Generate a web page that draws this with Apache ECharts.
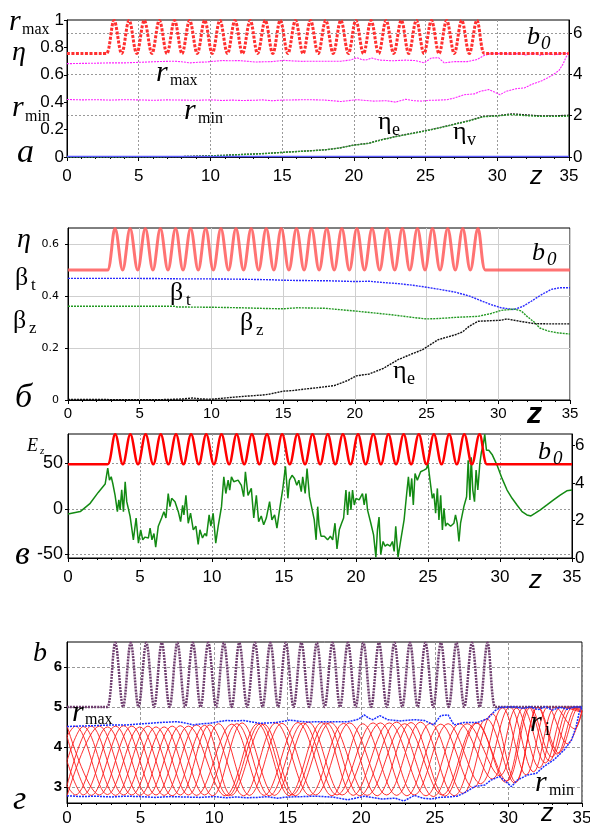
<!DOCTYPE html>
<html><head><meta charset="utf-8">
<script src="https://cdn.jsdelivr.net/npm/echarts@6/dist/echarts.min.js"></script>
<style>html,body{margin:0;padding:0;background:#fff}#c{width:590px;height:825px}</style>
</head><body><div id="c"></div>
<script>
// ---------- DATA ----------
// magnetic profile b0(z): turning points [z, b]
const bCurve = [[0,5],[2.5,5],[2.75,5],
[3.28,6.6],[3.81,5],[4.33,6.6],[4.86,5],[5.39,6.6],[5.92,5],[6.44,6.6],[6.97,5],[7.50,6.6],[8.02,5],[8.55,6.6],[9.08,5],[9.60,6.6],[10.13,5],[10.66,6.6],[11.19,5],[11.71,6.6],[12.24,5],[12.77,6.6],[13.29,5],[13.82,6.6],[14.35,5],[14.87,6.6],[15.40,5],[15.93,6.6],[16.46,5],[16.98,6.6],[17.51,5],[18.04,6.6],[18.56,5],[19.09,6.6],[19.62,5],[20.14,6.6],[20.67,5],[21.20,6.6],[21.73,5],[22.25,6.6],[22.78,5],[23.31,6.6],[23.83,5],[24.36,6.6],[24.89,5],[25.41,6.6],[25.94,5],[26.47,6.6],[27.00,5],[27.52,6.6],[28.05,5],[28.58,6.6],[29.10,5],[29.4,5],[35,5]];

// beam envelope r_max, r_min
const rMax = [[0,4.51],[0.8,4.52],[1.8,4.53],[3,4.55],[4.07,4.55],[5.2,4.58],[6.33,4.61],[7.46,4.63],[8.0,4.6],[8.59,4.55],[9.2,4.58],[9.72,4.59],[10.3,4.63],[10.85,4.66],[11.4,4.65],[11.98,4.66],[12.5,4.63],[13.1,4.59],[13.7,4.6],[14.24,4.61],[14.7,4.64],[15.14,4.67],[15.82,4.64],[16.4,4.62],[16.95,4.63],[17.6,4.63],[18.2,4.63],[19.1,4.63],[19.8,4.69],[20.2,4.8],[20.5,4.72],[20.8,4.68],[21.26,4.78],[21.8,4.68],[22.7,4.65],[23.6,4.68],[24.3,4.66],[24.9,4.55],[25.4,4.78],[25.9,4.8],[26.3,4.55],[27.0,4.61],[27.9,4.61],[28.6,4.71],[29.1,4.91],[29.5,4.99],[30.4,5.0],[31,4.96],[31.5,5.0],[32,4.93],[32.5,5.0],[33,4.92],[33.5,4.99],[34,4.94],[34.5,5.0],[35,5.0]];
const rMin = [[0,2.78],[1,2.76],[2,2.77],[3,2.75],[4,2.77],[5,2.76],[6,2.74],[7,2.76],[8,2.75],[9,2.74],[10,2.76],[10.85,2.73],[11.5,2.75],[12.2,2.73],[13,2.74],[13.6,2.76],[14.3,2.72],[15,2.75],[16,2.76],[16.85,2.77],[18,2.75],[19.1,2.68],[20.2,2.77],[21.4,2.7],[22.3,2.72],[22.9,2.65],[23.6,2.79],[24.2,2.72],[24.75,2.7],[25.3,2.74],[25.9,2.75],[26.5,2.77],[27.0,2.85],[27.7,3.01],[28.4,3.05],[28.8,3.17],[29.4,3.26],[29.8,3.14],[30.2,3.01],[30.6,3.17],[31.3,3.3],[31.9,3.34],[32.4,3.51],[33.1,3.68],[33.8,3.93],[34.3,4.18],[34.6,4.51],[34.8,4.84],[35,5.0]];

// panel a: efficiencies
const etaZ  = [0,2,4,6,8,9,10,11,12,13,14,15,16,17,18,19,20,21,22,23,24,25,26,27,28,29,30,31,32,33,34,35];
const etaE  = [0,0,0,0.001,0.003,0.006,0.009,0.013,0.018,0.022,0.027,0.034,0.04,0.046,0.053,0.066,0.088,0.1,0.128,0.152,0.172,0.192,0.215,0.24,0.265,0.296,0.302,0.315,0.308,0.3,0.3,0.305];
const etaV  = [0,0,0,0.001,0.003,0.005,0.008,0.012,0.017,0.021,0.026,0.033,0.039,0.045,0.052,0.065,0.086,0.099,0.126,0.15,0.17,0.19,0.213,0.238,0.262,0.293,0.3,0.31,0.302,0.296,0.296,0.298];
const etaBase = [[0,0.004],[35,0.004]];

// panel б
const etaE2Z = [0,2,4,6,7,8,8.7,9.2,10,11,12,13,13.5,14,15,15.6,16.5,17.5,18.6,19.5,20.1,21,22,22.4,23,24,24.7,25.8,26.3,27,27.5,28,28.6,29,30.2,30.6,31.5,32.5,33.5,35];
const etaE2  = [0.002,0.002,0.001,0.001,0.002,0.004,0.008,0.004,0.003,0.008,0.013,0.017,0.019,0.022,0.034,0.036,0.042,0.048,0.056,0.075,0.093,0.1,0.122,0.135,0.155,0.178,0.193,0.232,0.24,0.251,0.262,0.285,0.303,0.304,0.307,0.312,0.303,0.294,0.293,0.293];
const betaTZ = [0,5,7,8,10,12,14,15,16,18,20,21,22,23,24,25,26,27,28,28.8,29.5,30.2,31.1,31.7,32.3,33,33.7,34.3,35];
const betaT  = [0.468,0.468,0.467,0.466,0.466,0.465,0.463,0.461,0.46,0.459,0.456,0.457,0.452,0.448,0.442,0.434,0.425,0.415,0.4,0.382,0.367,0.355,0.348,0.36,0.38,0.405,0.426,0.432,0.432];
const betaZZ = [0,5,7.4,7.6,10,12,14,15,16,17.9,20.1,22.4,24,25,26,27,28.6,29.5,30.2,31.1,31.6,32,32.5,32.9,33.5,34.2,35];
const betaZ  = [0.361,0.361,0.361,0.358,0.357,0.355,0.352,0.351,0.355,0.353,0.342,0.329,0.318,0.312,0.314,0.318,0.322,0.333,0.345,0.35,0.343,0.322,0.3,0.277,0.265,0.258,0.254];

// panel в: field E_z
const EzCurve = [[0,-5.5],[0.85,-2.9],[1.54,6.2],[2.1,18.2],[2.58,27.4],[2.7,28.8],[2.76,45],[2.88,31.8],[3.0,35.4],[3.11,28],[3.27,15],[3.43,-3],[3.53,10],[3.62,-1],[3.73,21],[3.85,-3],[3.97,30],[4.08,8],[4.31,-8],[4.54,-34],[4.73,-10],[4.89,-37.6],[5.05,-23],[5.19,-34],[5.35,-31],[5.58,-32],[5.7,-21],[5.83,-34],[5.97,-27],[6.09,-42],[6.27,-19],[6.5,-10],[6.66,-3],[6.8,-10],[6.96,17],[7.08,2.5],[7.2,11.7],[7.43,8],[7.66,-3],[7.82,-14],[7.96,4],[8.05,-6.6],[8.19,15],[8.35,-15.7],[8.51,-4.7],[8.7,-23],[8.88,-19],[9.04,-39],[9.16,-23],[9.34,-32],[9.5,-27],[9.62,-30],[9.8,-6.6],[9.92,-19],[10.08,-4.7],[10.26,-37.6],[10.43,-19],[10.66,2.5],[10.82,35.4],[10.96,17],[11.12,31.7],[11.23,20.8],[11.35,35.4],[11.51,30],[11.81,31.7],[12.04,26],[12.2,13.5],[12.32,40.9],[12.5,15],[12.73,22.6],[12.9,-10],[13.08,15],[13.24,-14],[13.42,-7.7],[13.59,-17.5],[13.77,-10],[14.0,8],[14.16,-12],[14.35,-6.6],[14.51,-21],[14.69,-1],[14.92,22.6],[15.1,47],[15.27,11.7],[15.38,31.7],[15.56,37],[15.73,33.6],[15.89,26],[16.03,31.7],[16.2,19],[16.3,35.4],[16.47,17],[16.6,44.5],[16.77,13.5],[17.1,-12],[17.23,-34],[17.34,2.5],[17.43,-17.5],[17.57,-30],[17.8,-30],[18.03,-34],[18.22,-30],[18.38,-34],[18.54,-15.7],[18.68,-44],[18.84,-23],[19.0,-15.7],[19.14,-10],[19.3,20.8],[19.42,-6.6],[19.53,19],[19.65,-1],[19.76,20.8],[19.88,4.4],[20.0,11.7],[20.22,9.9],[20.45,17],[20.57,4.4],[20.69,17],[20.8,-1],[21.03,-15.7],[21.22,-28.5],[21.38,-53],[21.49,-23],[21.6,-9],[21.72,-50],[21.88,-35.8],[22.02,-41],[22.18,-39],[22.37,-41],[22.53,-35.8],[22.65,-46.7],[22.76,-19],[22.92,-53],[23.11,-34],[23.34,-12],[23.52,17],[23.64,35.4],[23.75,13.5],[23.87,33.6],[23.98,4.4],[24.1,39],[24.26,31.7],[24.49,40.9],[24.72,42.7],[24.9,44.5],[25.0,50],[25.14,31.7],[25.3,11.7],[25.41,17],[25.53,-4.7],[25.65,22.6],[25.76,-12],[25.88,15],[26.0,-23],[26.11,0.7],[26.22,-19],[26.34,-15.7],[26.57,-19],[26.8,-15.7],[26.91,-6.6],[27.03,-15.7],[27.15,-35.8],[27.26,-15.7],[27.49,2.5],[27.68,13.5],[27.79,53.6],[27.91,9.9],[28.0,57],[28.11,20.8],[28.23,8],[28.34,42.7],[28.46,20.8],[28.6,50],[28.71,62.8],[28.83,70],[28.94,82],[29.06,64.6],[29.22,64.6],[29.45,60],[29.8,48],[30.14,33.6],[30.49,20.8],[30.84,11.7],[31.18,4.4],[31.53,-2.9],[31.87,-6.6],[32.15,-7.7],[32.45,-4.7],[32.8,-1],[33.26,4.4],[33.72,9.9],[34.18,15.3],[34.64,20],[35,20.8]];

// panel г: electron trajectories r_i(z), turning points [z, r]
const ri01 = [[0,4.53],[2.2,2.8],[4.4,4.52],[6.6,2.79],[8.8,4.55],[10.95,2.78],[13.15,4.58],[15.3,2.8],[17.6,4.6],[19.9,2.78],[22.4,4.62],[24.9,2.76],[27.2,4.58],[29.4,3.28],[31.0,4.97],[32.5,3.6],[34.0,5.0],[35,4.88]];
const ri02 = [[0,4.27],[0.55,4.52],[2.75,2.81],[4.95,4.5],[7.15,2.78],[9.35,4.54],[11.17,2.79],[13.37,4.57],[15.52,2.78],[17.9,4.61],[20.4,2.79],[22.95,4.58],[25.5,2.8],[27.8,4.6],[29.9,3.15],[31.5,4.99],[32.95,3.75],[34.4,5.0],[35,4.92]];
const ri03 = [[0,4.27],[1.65,2.79],[3.85,4.53],[6.05,2.8],[8.25,4.52],[10.75,2.78],[12.95,4.58],[15.1,2.78],[17.3,4.61],[19.45,2.79],[21.9,4.6],[24.4,2.78],[26.7,4.58],[28.9,3.2],[30.55,4.97],[32.1,3.48],[33.6,5.0],[35,4.86]];
const ri04 = [[0,2.77],[2.2,4.52],[4.4,2.8],[6.6,4.5],[8.8,2.79],[11.2,4.57],[13.4,2.79],[15.7,4.61],[18.0,2.78],[20.1,4.58],[22.4,2.79],[24.7,4.59],[26.9,2.84],[28.9,4.83],[30.5,3.12],[32.0,5.0],[33.3,3.82],[34.65,5.0],[35,4.95]];
const ri05 = [[0,3.03],[0.55,2.8],[2.75,4.5],[4.95,2.79],[7.15,4.52],[9.35,2.8],[11.55,4.58],[13.75,2.78],[16.05,4.6],[18.35,2.8],[20.8,4.6],[23.1,2.78],[25.4,4.57],[27.6,2.98],[29.6,4.98],[31.2,3.3],[32.7,5.0],[34.0,4.08],[35,4.9]];
const ri06 = [[0,3.65],[1.1,2.8],[3.3,4.52],[5.5,2.79],[7.7,4.53],[9.9,2.78],[11.9,4.6],[14.1,2.79],[16.4,4.62],[18.7,2.8],[21.3,4.6],[23.6,2.8],[25.9,4.58],[28.1,3.08],[30.1,5.0],[31.7,3.38],[33.2,5.0],[34.5,4.45],[35,4.9]];
const ri07 = [[0,3.65],[1.1,4.51],[3.3,2.79],[5.5,4.52],[7.7,2.8],[9.7,4.55],[12.0,2.78],[14.2,4.6],[16.5,2.79],[18.8,4.59],[21.08,2.78],[23.38,4.61],[25.68,2.77],[27.88,4.6],[29.78,3.12],[31.38,5.0],[32.78,3.65],[34.18,5.0],[35,4.9]];
const ri08 = [[0,3.03],[1.65,4.52],[3.85,2.8],[6.05,4.5],[8.25,2.8],[10.3,4.58],[12.4,2.79],[14.6,4.59],[16.9,2.8],[19.2,4.6],[21.72,2.8],[24.02,4.62],[26.32,2.78],[28.52,4.7],[30.42,3.1],[32.02,5.0],[33.42,3.85],[34.82,5.0],[35,4.98]];
const riAll = [ri01,ri02,ri03,ri04,ri05,ri06,ri07,ri08];

// axis tick values
const etaTicksA = [0,0.2,0.4,0.6,0.8,1];
const bTicks = [0,2,4,6];
const etaTicksB = [0,0.2,0.4,0.6];
const EzTicks = [-50,0,50];
const rTicks = [3,4,5,6];

// ---------- CHART ----------
const pair = (zs, vs) => zs.map((z, i) => [z, vs[i]]);
const SANS = '"Liberation Sans", Arial, sans-serif';
const SERIF = '"Liberation Serif", "DejaVu Serif", serif';

function xAx(gi, fs, margin, split) {
  return {gridIndex: gi, type: 'value', min: 0, max: 35, interval: 5,
    axisLine: {show: true, onZero: false, lineStyle: {color: '#000', width: 1}},
    axisTick: {show: true, length: 4, lineStyle: {color: '#000'}},
    minorTick: {show: true, splitNumber: 5, length: 2, lineStyle: {color: '#000'}},
    axisLabel: {color: '#000', fontFamily: SANS, fontSize: fs, margin: margin},
    splitLine: {show: true, lineStyle: split}};
}
function yAx(gi, min, max, vals, pos, lab, split) {
  return {gridIndex: gi, type: 'value', min: min, max: max, position: pos,
    axisLine: {show: true, onZero: false, lineStyle: {color: '#000', width: 1}},
    axisTick: {show: true, length: 3, customValues: vals, lineStyle: {color: '#000'}},
    axisLabel: Object.assign({color: '#000', customValues: vals, fontFamily: SANS}, lab),
    splitLine: split ? {show: true, lineStyle: split} : {show: false}};
}
function ln(data, xi, yi, color, width, type, smooth, z, opacity) {
  return {type: 'line', data: data, xAxisIndex: xi, yAxisIndex: yi, showSymbol: false, symbol: 'none',
    smooth: smooth ? 0.36 : false, silent: true, animation: false, z: z || 2,
    lineStyle: {color: color, width: width, type: type || 'solid', opacity: opacity == null ? 1 : opacity}};
}
function T(x, bl, text, fs, italic, family, weight) {
  return {type: 'text', x: x, y: bl - 0.34 * fs, silent: true, z: 100,
    style: {text: text, fontSize: fs, fontFamily: family || SERIF, fontStyle: italic ? 'italic' : 'normal',
      fontWeight: weight || 'normal', fill: '#000', textAlign: 'left', textVerticalAlign: 'middle',
      align: 'left', verticalAlign: 'middle'}};
}

const dotGrid = {color: '#999', type: [2, 2], width: 1};
const solGrid = {color: '#cfcfcf', type: 'solid', width: 1};
const dashGrid = {color: '#999', type: [3, 2], width: 1};

const gridBase = {show: true, borderColor: '#000', borderWidth: 1, backgroundColor: 'transparent', containLabel: false, outerBoundsMode: 'none'};

const series = [];
// panel a
series.push(ln(pair(etaZ, etaE), 0, 0, '#222', 1.3, [2, 1]));
series.push(ln(pair(etaZ, etaV), 0, 0, '#2a9a2a', 1.3, [2, 1]));
series.push(ln(etaBase, 0, 0, '#5a5aff', 1.5));
series.push(ln(rMax, 0, 1, '#ff22ff', 1.1, [2, 1]));
series.push(ln(rMin, 0, 1, '#ff22ff', 1.1, [2, 1]));
series.push(ln(bCurve, 0, 1, '#ff3030', 3, [3, 1.5], true, 3));
// panel б
series.push(ln(bCurve, 1, 3, '#ff5a5a', 3, 'solid', true, 3, 0.85));
series.push(ln(pair(betaTZ, betaT), 1, 2, '#2b2bff', 1.4, [2, 1]));
series.push(ln(pair(betaZZ, betaZ), 1, 2, '#229922', 1.4, [2, 1]));
series.push(ln(pair(etaE2Z, etaE2), 1, 2, '#111', 1.4, [2, 1]));
// panel в
series.push(ln(bCurve, 2, 5, '#ff0000', 2.5, 'solid', true, 3));
series.push(ln(EzCurve, 2, 4, '#138a13', 1.5));
// panel г
riAll.forEach(function (d) { series.push(ln(d, 3, 6, '#ff1a1a', 0.9, 'solid', true, 2)); });
series.push(ln(bCurve, 3, 6, '#6e3d6e', 2.5, [2, 1], true, 4));
series.push(ln(rMax, 3, 6, '#1a2cff', 1.5, [2, 1], false, 5));
series.push(ln(rMin, 3, 6, '#1a2cff', 1.5, [2, 1], false, 5));

const texts = [
  // panel a
  T(9, 32, 'r', 30, true), T(22, 35, 'max', 16),
  T(12, 62, 'η', 28, true),
  T(12, 118, 'r', 30, true), T(25, 122, 'min', 16),
  T(17, 165, 'а', 34, true),
  T(156, 83, 'r', 30, true), T(170, 86, 'max', 16),
  T(184, 121, 'r', 30, true), T(198, 124, 'min', 16),
  T(378, 131, 'η', 26), T(392, 136, 'e', 18),
  T(453, 141, 'η', 26), T(467, 146, 'v', 18),
  T(527, 46, 'b', 26, true), T(541, 50, '0', 19, true),
  T(530, 186, 'z', 25, true, SANS),
  // panel б
  T(17, 249, 'η', 28, true),
  T(15, 287, 'β', 26), T(31, 291, 't', 17),
  T(13, 330, 'β', 26), T(29, 334, 'z', 17),
  T(15, 410, 'б', 34, true),
  T(170, 302, 'β', 26), T(186, 306, 't', 17),
  T(240, 332, 'β', 26), T(256, 336, 'z', 17),
  T(532, 262, 'b', 26, true), T(547, 266, '0', 19, true),
  T(393, 380, 'η', 26), T(407, 385, 'e', 18),
  T(527, 425, 'z', 30, true, SANS, 'bold'),
  // panel в
  T(27, 452, 'E', 18, true), T(40, 455, 'z', 11, true),
  T(15, 567, 'в', 34, true),
  T(538, 461, 'b', 26, true), T(553, 465, '0', 19, true),
  T(529, 590, 'z', 26, true, SANS),
  // panel г
  T(33, 663, 'b', 28, true),
  T(13, 812, 'г', 34, true),
  T(72, 723, 'r', 30, true), T(85, 725, 'max', 16),
  T(530, 733, 'r', 30, true), T(545, 736, 'i', 18),
  T(535, 793, 'r', 30, true), T(549, 796, 'min', 16),
  T(541, 823, 'z', 25, true, SANS)
];

const option = {
  animation: false,
  backgroundColor: '#fff',
  grid: [
    Object.assign({left: 67, top: 20, width: 502, height: 137}, gridBase),
    Object.assign({left: 68, top: 228, width: 502, height: 172}, gridBase),
    Object.assign({left: 68, top: 434, width: 504, height: 124}, gridBase),
    Object.assign({left: 67, top: 642, width: 515, height: 161}, gridBase)
  ],
  xAxis: [
    xAx(0, 17, 11, dotGrid),
    xAx(1, 15, 6, solGrid),
    xAx(2, 17, 11, dotGrid),
    xAx(3, 17, 7, dashGrid)
  ],
  yAxis: [
    yAx(0, 0, 1, etaTicksA, 'left', {fontSize: 17, margin: 3}, null),
    yAx(0, 0, 6.62, bTicks, 'right', {fontSize: 17, margin: 4}, dotGrid),
    yAx(1, 0, 0.662, etaTicksB, 'left', {fontSize: 11, margin: 9, fontFamily: '"DejaVu Sans", sans-serif'}, solGrid),
    {gridIndex: 1, type: 'value', min: 0, max: 6.62, show: false, position: 'right'},
    yAx(2, -54, 82.5, EzTicks, 'left', {fontSize: 18, margin: 5}, dotGrid),
    yAx(2, 0, 6.62, bTicks, 'right', {fontSize: 17, margin: 3}, null),
    yAx(3, 2.6, 6.62, rTicks, 'left', {fontSize: 15, margin: 5, fontWeight: 'bold'}, dashGrid)
  ],
  series: series,
  graphic: texts
};

const chart = echarts.init(document.getElementById('c'), null, {renderer: 'canvas', width: 590, height: 825});
chart.setOption(option);
</script></body></html>
